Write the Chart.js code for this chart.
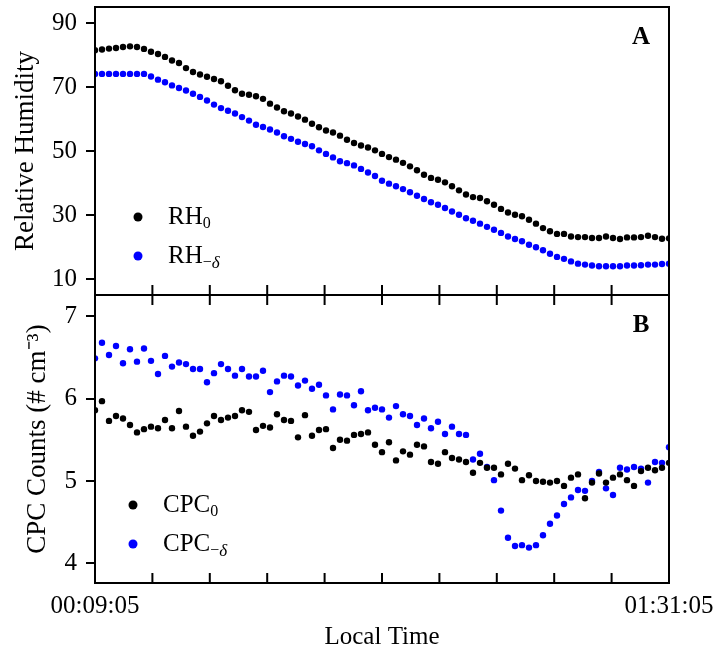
<!DOCTYPE html>
<html>
<head>
<meta charset="utf-8">
<script src="https://cdn.jsdelivr.net/npm/chart.js@4"></script>
<style>
body{margin:0;background:#fff;}
#wrap{position:relative;width:717px;height:658px;}
#rhChart{position:absolute;left:0;top:0;}
#cpcChart{position:absolute;left:0;top:290px;}
</style>
</head>
<body>
<div id="wrap">
<canvas id="rhChart" width="717" height="300"></canvas>
<canvas id="cpcChart" width="717" height="368"></canvas>
</div>
<script>

// one sample per minute, 00:09:05 -> 01:31:05
const rh0 = [
    81.5,81.7,82.0,82.2,82.5,82.7,82.5,81.9,81.0,80.3,
    79.4,78.3,77.5,75.9,74.7,73.9,73.2,72.5,71.8,70.4,
    69.0,67.9,67.6,67.1,66.3,64.8,63.6,62.4,61.7,60.8,
    59.8,58.5,57.4,56.4,55.8,54.8,53.5,52.5,51.7,51.1,
    50.2,49.1,48.1,47.3,46.3,45.2,44.0,42.6,41.6,41.0,
    40.2,39.0,37.7,36.4,35.6,35.3,34.3,33.2,31.9,30.8,
    30.1,29.6,28.5,27.3,25.9,24.9,24.1,24.1,23.3,23.1,
    23.1,22.8,22.8,23.3,22.8,22.5,23.0,23.0,23.1,23.5,
    23.1,22.6,22.7
];

const rhDelta = [
    74.1,74.1,74.1,74.1,74.1,74.1,74.1,74.1,73.3,72.3,
    71.5,70.5,69.7,68.9,67.9,66.9,65.8,64.5,63.4,62.6,
    61.7,60.6,59.5,58.2,57.5,56.7,55.8,54.6,53.8,52.9,
    52.2,51.5,50.2,49.1,48.0,46.8,46.2,45.5,44.4,43.3,
    42.2,40.7,39.8,39.0,38.1,37.1,36.0,35.0,34.0,33.2,
    32.2,31.1,30.1,29.0,28.2,27.3,26.3,25.4,24.4,23.3,
    22.5,21.8,20.7,19.9,19.0,17.9,16.9,16.3,15.5,14.8,
    14.5,14.2,14.0,14.0,14.0,14.0,14.2,14.2,14.3,14.5,
    14.5,14.7,14.8
];

const cpc0 = [
    5.86,5.97,5.73,5.79,5.76,5.68,5.59,5.63,5.66,5.64,
    5.74,5.64,5.85,5.66,5.55,5.60,5.70,5.79,5.74,5.77,
    5.79,5.86,5.84,5.62,5.67,5.65,5.81,5.74,5.73,5.53,
    5.80,5.55,5.62,5.63,5.40,5.50,5.49,5.56,5.57,5.59,
    5.44,5.35,5.47,5.25,5.36,5.32,5.44,5.42,5.23,5.21,
    5.35,5.28,5.26,5.23,5.10,5.22,5.16,5.16,5.08,5.21,
    5.15,5.01,5.07,5.00,4.99,4.98,5.00,4.94,5.04,5.08,
    4.79,4.98,5.09,4.98,5.04,5.08,5.01,4.94,5.12,5.16,
    5.13,5.16,5.22
];

const cpcDelta = [
    6.49,6.68,6.53,6.64,6.43,6.60,6.45,6.61,6.46,6.30,
    6.52,6.39,6.44,6.42,6.36,6.36,6.20,6.31,6.42,6.36,
    6.28,6.36,6.27,6.27,6.34,6.08,6.21,6.28,6.27,6.16,
    6.22,6.12,6.17,6.04,5.87,6.05,6.04,5.92,6.09,5.86,
    5.89,5.87,5.77,5.91,5.81,5.79,5.68,5.76,5.64,5.72,
    5.57,5.66,5.57,5.56,5.26,5.33,5.17,5.01,4.64,4.31,
    4.21,4.22,4.19,4.22,4.34,4.48,4.58,4.72,4.80,4.89,
    4.88,5.00,5.11,4.91,4.83,5.16,5.14,5.17,5.15,4.98,
    5.23,5.22,5.41
];

const rhTicks = [10, 30, 50, 70, 90];
const cpcTicks = [4, 5, 6, 7];
const xMinorTicks = [0, 8.2, 16.4, 24.6, 32.8, 41, 49.2, 57.4, 65.6, 73.8, 82];
const xLabelPos = [0, 82];
const xLabels = ['00:09:05', '01:31:05'];

const FONT = '"Liberation Serif", "Times New Roman", serif';
const BLUE = 'rgb(0,0,255)';

function toPoints(arr){
    return arr.map((v, i) => ({x: i, y: v}));
}

const framePlugin = {

    id: 'frame',

    afterDatasetsDraw(chart, args, opts){

        const ctx = chart.ctx;
        const a = chart.chartArea;
        const x = chart.scales.x;

        ctx.save();

        ctx.strokeStyle = '#000';
        ctx.lineWidth = 2;
        ctx.strokeRect(a.left, a.top, a.right - a.left, a.bottom - a.top);

        // inner tick marks on the time axis
        ctx.beginPath();
        xMinorTicks.forEach(v => {
            const px = x.getPixelForValue(v);
            if(opts.tickTop){
                ctx.moveTo(px, a.top);
                ctx.lineTo(px, a.top + 10);
            }
            if(opts.tickBottom){
                ctx.moveTo(px, a.bottom);
                ctx.lineTo(px, a.bottom - 10);
            }
        });
        ctx.stroke();

        ctx.fillStyle = '#000';
        ctx.font = 'bold 25px ' + FONT;
        ctx.textAlign = 'center';
        ctx.textBaseline = 'middle';
        ctx.fillText(opts.letter, a.right - 28, a.top + 31);

        // legend
        ctx.textAlign = 'left';
        ctx.textBaseline = 'alphabetic';
        opts.items.forEach((it, i) => {
            const cx = a.left + opts.lx;
            const cy = a.top + opts.ly + i * 39;
            ctx.fillStyle = chart.data.datasets[i].backgroundColor;
            ctx.beginPath();
            ctx.arc(cx, cy, 4.5, 0, Math.PI * 2);
            ctx.fill();
            ctx.fillStyle = '#000';
            ctx.font = '25px ' + FONT;
            let tx = cx + 30;
            const base = cy + 7;
            ctx.fillText(it.name, tx, base);
            tx += ctx.measureText(it.name).width;
            ctx.font = '16px ' + FONT;
            ctx.fillText(it.sub, tx, base + 4);
            if(it.subItalic){
                tx += ctx.measureText(it.sub).width;
                ctx.font = 'italic 17px ' + FONT;
                ctx.fillText(it.subItalic, tx, base + 5);
            }
        });

        ctx.restore();
    }
};

function yScale(min, max, ticks, title, titlePad){
    return {
        type: 'linear',
        min: min,
        max: max,
        afterBuildTicks: s => { s.ticks = ticks.map(v => ({value: v})); },
        afterFit: s => {
            s.width = 95;
            s.paddingTop = 0;
            s.paddingBottom = 0;
        },
        grid: {
            drawOnChartArea: false,
            drawTicks: true,
            tickLength: 9,
            lineWidth: 2,
            color: '#000'
        },
        border: {display: false},
        ticks: {
            padding: 9,
            color: '#000',
            font: {family: FONT, size: 25}
        },
        title: {
            display: true,
            text: title,
            color: '#000',
            font: {family: FONT, size: 27},
            padding: {top: titlePad, bottom: 0}
        }
    };
}

function dataset(label, arr, color){
    return {
        label: label,
        data: toPoints(arr),
        backgroundColor: color,
        borderColor: color,
        pointRadius: 3.2,
        pointBorderWidth: 0,
        showLine: false
    };
}

const rhChart = new Chart(document.getElementById('rhChart'), {

    type: 'scatter',

    data: {
        datasets: [
            dataset('RH0', rh0, '#000'),
            dataset('RH-delta', rhDelta, BLUE)
        ]
    },

    plugins: [framePlugin],

    options: {
        responsive: false,
        animation: false,
        layout: {padding: {top: 7, bottom: 5, left: 0, right: 48}},
        plugins: {
            legend: {display: false},
            tooltip: {enabled: false},
            frame: {
                letter: 'A',
                tickTop: false,
                tickBottom: true,
                lx: 43,
                ly: 210,
                items: [
                    {name: 'RH', sub: '0'},
                    {name: 'RH', sub: '\u2212', subItalic: '\u03b4'}
                ]
            }
        },
        scales: {
            x: {type: 'linear', min: 0, max: 82, display: false},
            y: yScale(5, 95, rhTicks, 'Relative Humidity', 10)
        }
    }
});

const cpcChart = new Chart(document.getElementById('cpcChart'), {

    type: 'scatter',

    data: {
        datasets: [
            dataset('CPC0', cpc0, '#000'),
            dataset('CPC-delta', cpcDelta, BLUE)
        ]
    },

    plugins: [framePlugin],

    options: {
        responsive: false,
        animation: false,
        layout: {padding: {top: 5, bottom: 0, left: 0, right: 48}},
        plugins: {
            legend: {display: false},
            tooltip: {enabled: false},
            frame: {
                letter: 'B',
                tickTop: true,
                tickBottom: true,
                lx: 38,
                ly: 210,
                items: [
                    {name: 'CPC', sub: '0'},
                    {name: 'CPC', sub: '\u2212', subItalic: '\u03b4'}
                ]
            }
        },
        scales: {
            x: {
                type: 'linear',
                min: 0,
                max: 82,
                afterBuildTicks: s => { s.ticks = xLabelPos.map(v => ({value: v})); },
                afterFit: s => {
                    s.height = 75;
                    s.paddingLeft = 0;
                    s.paddingRight = 0;
                },
                grid: {display: false, drawTicks: false},
                border: {display: false},
                ticks: {
                    padding: 8,
                    color: '#000',
                    maxRotation: 0,
                    autoSkip: false,
                    font: {family: FONT, size: 25},
                    callback: v => xLabels[xLabelPos.indexOf(v)]
                },
                title: {
                    display: true,
                    text: 'Local Time',
                    color: '#000',
                    font: {family: FONT, size: 25},
                    padding: {top: 0, bottom: 6}
                }
            },
            y: yScale(3.76, 7.26, cpcTicks, 'CPC Counts (# cm\u207b\u00b3)', 22)
        }
    }
});
</script>
</body>
</html>
